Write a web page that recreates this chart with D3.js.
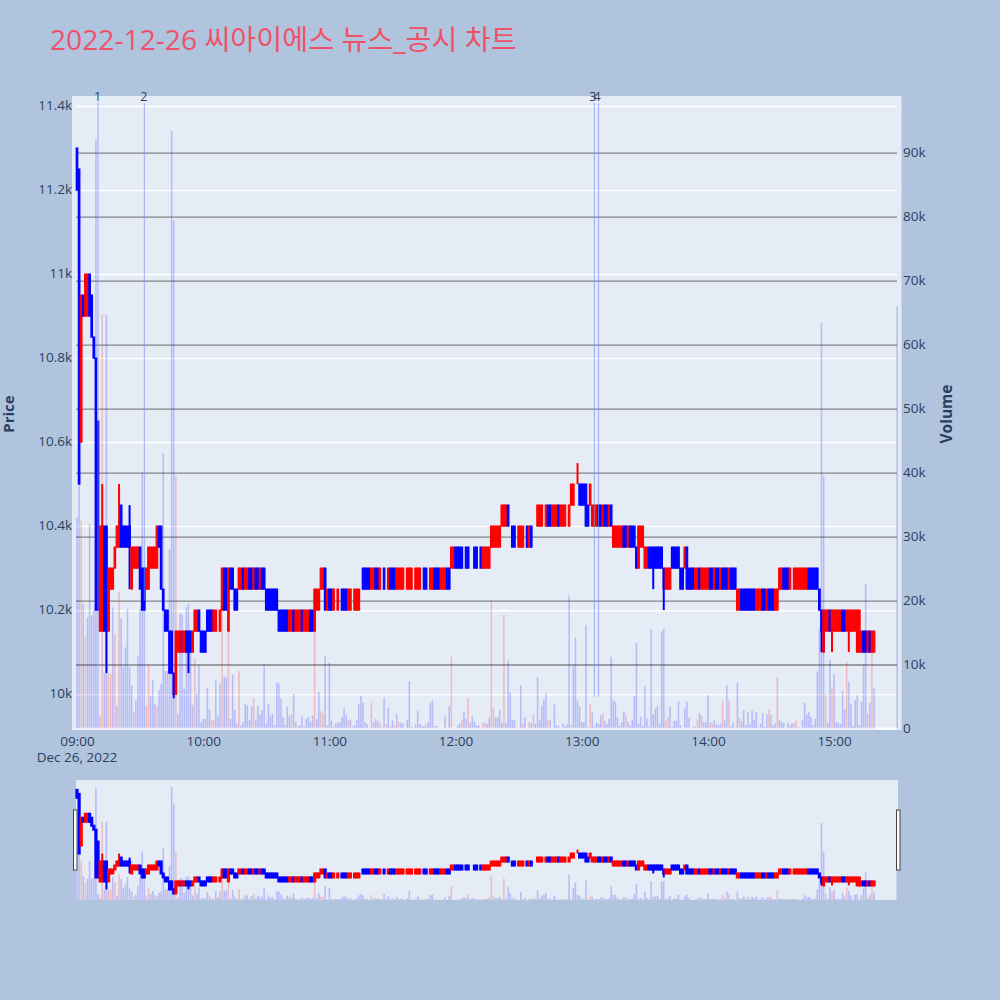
<!DOCTYPE html>
<html><head><meta charset="utf-8">
<script src="https://cdn.jsdelivr.net/npm/d3@7"></script>
<style>html,body{margin:0;padding:0;background:#b0c4de}svg{display:block}text{font-family:"Open Sans",sans-serif}</style>
</head><body><svg id="c" width="1000" height="1000"></svg>
<script>
const titleText = "2022-12-26 씨아이에스 뉴스_공시 차트";
const priceTicks = [10000,10200,10400,10600,10800,11000,11200,11400];
const volumeTicks = [0,10,20,30,40,50,60,70,80,90];
const opens = [
11300,11250,10600,10950,10900,10900,11000,10950,10850,10800,
10650,10150,10150,10400,10400,10150,10250,10250,10300,10350,
10350,10450,10400,10400,10400,10400,10250,10300,10300,10300,
10350,10300,10300,10250,10250,10300,10300,10300,10300,10400,
10400,10250,10200,10200,10150,10150,10050,10000,10100,10100,
10100,10100,10150,10150,10150,10100,10150,10150,10200,10150,
10150,10150,10200,10200,10200,10150,10150,10200,10150,10200,
10300,10300,10150,10300,10300,10250,10250,10250,10250,10300,
10250,10250,10300,10300,10250,10300,10300,10250,10300,10300,
10250,10250,10250,10250,10250,10250,10200,10200,10200,10200,
10200,10150,10150,10200,10150,10150,10150,10200,10150,10150,
10150,10200,10200,10150,10200,10200,10250,10250,10300,10200,
10250,10250,10200,10250,10200,10250,10250,10250,10250,10200,
10200,10250,10200,10200,10200,10250,10300,10300,10300,10300,
10250,10250,10300,10300,10250,10300,10300,10300,10250,10300,
10300,10300,10250,10250,10250,10250,10300,10250,10250,10250,
10300,10250,10250,10250,10300,10300,10300,10300,10250,10250,
10300,10300,10300,10250,10250,10250,10300,10300,10300,10300,
10350,10350,10350,10350,10350,10350,10350,10350,10350,10350,
10350,10350,10350,10300,10300,10300,10300,10350,10350,10350,
10350,10350,10400,10400,10400,10450,10400,10400,10400,10400,
10350,10350,10350,10400,10400,10350,10400,10400,10400,10400,
10400,10400,10450,10400,10450,10450,10400,10400,10400,10450,
10400,10400,10400,10450,10400,10450,10450,10500,10500,10500,
10500,10500,10500,10450,10450,10400,10400,10400,10450,10450,
10400,10450,10450,10400,10450,10350,10350,10350,10350,10350,
10400,10400,10350,10400,10400,10400,10350,10300,10350,10350,
10300,10300,10350,10350,10350,10350,10350,10350,10350,10300,
10250,10250,10250,10350,10350,10350,10350,10300,10300,10300,
10350,10300,10300,10300,10250,10250,10300,10250,10250,10250,
10250,10300,10300,10250,10300,10300,10250,10300,10300,10300,
10250,10300,10300,10300,10200,10200,10250,10250,10250,10250,
10250,10250,10250,10200,10200,10200,10250,10250,10200,10250,
10250,10250,10200,10200,10250,10250,10300,10300,10300,10250,
10300,10250,10250,10250,10250,10250,10250,10250,10300,10300,
10300,10300,10300,10250,10200,10100,10150,10150,10200,10150,
10150,10150,10150,10150,10200,10200,10150,10150,10150,10150,
10150,10100,10100,10100,10150,10150,10100,10150,10100,10100];
const closes = [
11200,10500,10950,10900,11000,11000,10900,10850,10800,10200,
10200,10400,10400,10150,10150,10300,10300,10300,10350,10400,
10400,10350,10350,10350,10350,10350,10350,10350,10350,10350,
10250,10200,10200,10300,10350,10350,10350,10350,10400,10350,
10250,10200,10150,10150,10050,10050,10000,10150,10150,10150,
10150,10150,10100,10100,10100,10150,10200,10200,10150,10100,
10100,10100,10150,10150,10150,10200,10200,10200,10200,10300,
10200,10200,10300,10250,10250,10200,10200,10300,10300,10250,
10300,10300,10250,10250,10300,10250,10250,10300,10250,10250,
10200,10200,10200,10200,10200,10200,10150,10150,10150,10150,
10150,10200,10200,10150,10200,10200,10200,10150,10200,10200,
10200,10150,10150,10250,10250,10250,10300,10300,10200,10250,
10200,10200,10250,10250,10250,10250,10200,10200,10200,10250,
10250,10250,10250,10250,10250,10250,10250,10250,10250,10250,
10300,10300,10250,10250,10300,10300,10250,10300,10300,10250,
10250,10250,10300,10300,10300,10300,10300,10300,10300,10300,
10300,10300,10300,10300,10300,10250,10250,10300,10300,10300,
10250,10250,10250,10300,10300,10300,10250,10250,10350,10350,
10300,10300,10300,10300,10350,10300,10300,10350,10350,10300,
10300,10350,10300,10350,10350,10350,10350,10400,10400,10400,
10400,10400,10450,10450,10450,10400,10400,10350,10350,10400,
10400,10400,10400,10400,10350,10400,10350,10400,10400,10450,
10450,10450,10450,10450,10400,10400,10450,10450,10450,10400,
10450,10450,10450,10450,10450,10500,10500,10500,10500,10450,
10450,10450,10400,10400,10500,10450,10450,10450,10400,10400,
10450,10400,10400,10450,10400,10400,10400,10400,10400,10400,
10350,10350,10400,10350,10350,10350,10300,10400,10400,10400,
10350,10350,10300,10300,10300,10300,10300,10300,10300,10250,
10300,10300,10300,10300,10300,10300,10300,10250,10250,10350,
10250,10250,10250,10250,10300,10300,10250,10300,10300,10300,
10300,10250,10250,10300,10250,10250,10300,10250,10250,10250,
10300,10250,10250,10250,10250,10250,10200,10200,10200,10200,
10200,10200,10200,10250,10250,10250,10200,10200,10250,10200,
10200,10200,10250,10250,10300,10300,10250,10250,10250,10300,
10300,10300,10300,10300,10300,10300,10300,10300,10250,10250,
10250,10250,10250,10200,10150,10200,10200,10200,10150,10200,
10200,10200,10200,10200,10150,10150,10200,10200,10200,10200,
10200,10200,10200,10150,10100,10100,10150,10100,10150,10150];
const wickHighMinutes = [12,20,25,238];
const wickHighPrices = [10500,10500,10450,10550];
const wickLowMinutes = [14,25,46,53,274,279,354,359,367];
const wickLowPrices = [10050,10250,9990,10050,10250,10200,10100,10100,10100];
const volumes = [ // thousands of shares, one per minute from 09:00
33,38,32.5,19.5,14.3,17.4,32,17.7,18.5,92,
5,2,64.7,8.6,64.7,8.6,8.6,19,14.8,3.6,
21.3,17.2,9.6,12.7,18.7,9.6,6.8,2.6,4.4,11.4,
18.7,40,19,3.6,10,5,7.5,3.9,3.4,6,
7,43,9,9,28,93.4,79.5,39.4,2.3,18,
17.8,6.2,19,19.5,12,3.7,11,5.5,10,1,
1.5,1.5,6.4,3,1.4,1.3,7.5,2,7,18.5,
8,8,18,1.5,8.4,2.9,.8,9,.5,1,
3.9,3.6,1.3,3.5,4.8,1.4,3.5,2.2,2.8,10,
.8,3.9,2,2.3,.5,7.2,7,4.7,1.8,.5,
3.4,2,2.3,5.4,1,.5,.5,2,.3,1.5,
1.8,1,2,15.9,1.5,5.7,2.7,2.4,11.3,.5,
10.3,1.2,.3,.8,.9,1,1.8,3.1,2.2,1.3,
1.4,.3,.5,1.3,3.9,5.1,4,1,.7,.1,
4,1,1.5,1.2,.9,.2,4.8,.7,3.2,.3,
1.3,.5,2.3,1,.9,.8,.1,1.4,7.4,.3,
.1,.6,2.8,.7,.4,.4,.7,1,4,4.4,
.4,.4,.1,.1,.1,2,.1,3.5,11.2,.1,
.1,.4,.8,1.4,2.6,1.5,4.7,1,1.9,1,
.5,.5,.1,.9,1,.7,1.7,20,3.3,1.8,
1.8,2.9,.9,17.8,.9,10.6,5.6,1.3,1.4,.2,
.1,6.8,.9,1.8,.1,1,.8,2.2,.8,8,
1.3,3.6,4.6,5.5,1.3,1.3,.1,3.8,.5,.4,
.1,.8,.3,.7,20.8,.5,9.9,14.2,4.4,3.5,
1,1,16.2,.2,3.8,2.5,.3,.9,.7,2.1,
2.4,1.2,.7,1.5,11.2,4.4,4.2,1.7,.4,1,
2.6,2.1,1,.5,1.3,5,13.4,.7,1.8,.4,
6.6,1.6,.4,15.5,2.2,3.1,3.6,.8,15.2,15.6,
1.3,1.8,3.4,.3,1.2,1.2,4.2,.5,.1,3.1,
4.2,1.7,.1,.3,.3,1.4,2.4,2,1,1,
5.2,.9,.9,1.3,.7,.5,.8,4.3,1.3,6.8,
4.4,.4,1,.15,7.1,1.7,1.1,2.9,.5,2.6,
.7,2.8,1.4,2.6,.15,.8,2.4,.25,2.2,3,
2.2,.5,.8,8,1.3,1.1,.9,.1,.9,.5,
.8,.9,1.2,.25,.1,1.3,4,2.2,2.6,1.8,
.5,1.5,8.9,15.5,63.4,39.5,5.4,.9,10.7,6.5,
8.5,1,.9,.7,5.9,3,10.4,7.3,3.8,.4,
4.4,5.2,.5,4.2,10,22.6,2.3,4,11.9,6.3];
const redVolumeMinutes = [2,4,11,12,15,16,18,20,27,33,34,38,47,56,64,65,69,72,77,84,102,105,113,116,117,129,140,144,147,151,153,166,170,178,183,186,193,194,197,198,203,209,212,215,217,224,235,244,250,261,272,280,281,295,297,301,302,307,310,315,329,333,341,342,356,359,366,376,378];
const closingMinute = 390, closingPrice = 10100, closingVolume = 66;
const noteLabels = ["1","2","3","4"];
const noteMinutes = [10,32,246,248];
const noteVolumes = [5,20,5,5];

const t = m => new Date(2022,11,26,9,m);
const x = d3.scaleTime().domain([t(0),t(390)]).range([77,897.2]);
const priceDomain = [9917,11424], volumeDomain = [0,98.85];
const yP = d3.scaleLinear().domain(priceDomain).range([729,96]);
const yV = d3.scaleLinear().domain(volumeDomain).range([728.5,96]);
const yPs = d3.scaleLinear().domain(priceDomain).range([900,780]);
const yVs = d3.scaleLinear().domain(volumeDomain).range([900,780]);
const ink = "#2a3f5f", bg = "#e5ecf6";
const candles = opens.map((o,i)=>({m:i,o,c:closes[i]}));
candles.push({m:closingMinute,o:closingPrice,c:closingPrice,last:true});
const bars = volumes.map((v,i)=>({m:i,v,red:redVolumeMinutes.includes(i)}));
bars.push({m:closingMinute,v:closingVolume,red:false});
const colour = d => d.c>d.o ? "#ff0000" : d.c<d.o ? "#0000ff" : (d.last ? "#0000ff" : "#ff3333");

const svg = d3.select("#c");
svg.append("rect").attr("width",1000).attr("height",1000).attr("fill","#b0c4de");
svg.append("text").attr("x",50).attr("y",50).attr("font-size",28.2).attr("fill","#ef5268")
  .style("font-family",'"Open Sans","Noto Sans CJK KR",sans-serif').text(titleText);
svg.append("rect").attr("x",72).attr("y",96).attr("width",829.5).attr("height",634).attr("fill",bg);
svg.append("rect").attr("x",76).attr("y",780).attr("width",822).attr("height",120).attr("fill",bg);

// axes and grids
const gridPrice = svg.append("g").attr("transform","translate(76,0)")
  .call(d3.axisRight(yP).tickValues(priceTicks).tickSize(821).tickFormat(""));
gridPrice.select(".domain").remove();
gridPrice.selectAll("line").attr("stroke","#fff").attr("stroke-width",1.5);
svg.append("line").attr("x1",76).attr("x2",897).attr("y1",yV(0)).attr("y2",yV(0)).attr("stroke","#fff").attr("stroke-width",2);
const gridVol = svg.append("g").attr("transform","translate(76,0)")
  .call(d3.axisRight(yV).tickValues(volumeTicks.slice(1)).tickSize(821).tickFormat(""));
gridVol.select(".domain").remove();
gridVol.selectAll("line").attr("stroke","#858585").attr("stroke-width",1.3);

const axL = svg.append("g").attr("transform","translate(72,-1)")
  .call(d3.axisLeft(yP).tickValues(priceTicks).tickSize(0).tickPadding(0).tickFormat(d=>(d/1000)+"k"));
const axR = svg.append("g").attr("transform","translate(901,-0.5)")
  .call(d3.axisRight(yV).tickValues(volumeTicks).tickSize(0).tickPadding(2).tickFormat(d=>d?d+"k":"0"));
const axB = svg.append("g").attr("transform","translate(0,730)")
  .call(d3.axisBottom(x).ticks(d3.timeHour.every(1)).tickSize(0).tickPadding(6).tickFormat(d3.timeFormat("%H:%M")));
[axL,axR,axB].forEach(a=>{a.select(".domain").remove();
  a.selectAll("text").attr("font-size",13.5).attr("fill",ink).style("font-family",'"Open Sans",sans-serif');});
svg.append("text").attr("x",77).attr("y",762).attr("text-anchor","middle").attr("font-size",13.5).attr("fill",ink).text("Dec 26, 2022");
svg.append("text").attr("transform","translate(14,414) rotate(-90)").attr("text-anchor","middle").attr("font-size",15).attr("font-weight",700).attr("fill",ink).text("Price");
svg.append("text").attr("transform","translate(952,414) rotate(-90)").attr("text-anchor","middle").attr("font-size",15.5).attr("font-weight",700).attr("fill",ink).text("Volume");

function drawCandles(g,y,bodyWidth,strokeWidth){
  const wH = g.append("g"), wL = g.append("g");
  wH.selectAll("line").data(wickHighMinutes).join("line")
    .attr("x1",m=>x(t(m))).attr("x2",m=>x(t(m)))
    .attr("y1",(m,i)=>y(wickHighPrices[i])).attr("y2",m=>y(Math.max(opens[m],closes[m])))
    .attr("stroke",m=>closes[m]>=opens[m]?"#ff0000":"#0000ff").attr("stroke-width",2);
  wL.selectAll("line").data(wickLowMinutes).join("line")
    .attr("x1",m=>x(t(m))).attr("x2",m=>x(t(m)))
    .attr("y1",(m,i)=>y(wickLowPrices[i])).attr("y2",m=>y(Math.min(opens[m],closes[m])))
    .attr("stroke",m=>closes[m]>opens[m]?"#ff0000":"#0000ff").attr("stroke-width",2);
  g.append("g").selectAll("rect").data(candles).join("rect")
    .attr("x",d=>x(t(d.m))-bodyWidth/2).attr("width",bodyWidth)
    .attr("y",d=>y(Math.max(d.o,d.c)))
    .attr("height",d=>Math.abs(y(d.o)-y(d.c)))
    .attr("fill",colour).attr("stroke",colour)
    .attr("stroke-width",d=>d.o===d.c?strokeWidth/2:strokeWidth).attr("stroke-opacity",d=>d.o===d.c&&!d.last?0.6:1);
}
function drawVolume(g,y){
  g.selectAll("rect").data(bars).join("rect")
    .attr("x",d=>x(t(d.m))-0.8).attr("width",1.6)
    .attr("y",d=>y(d.v)).attr("height",d=>y(0)-y(d.v))
    .attr("fill",d=>d.red?"#ff0000":"#0000ff").attr("fill-opacity",0.2);
}
drawCandles(svg.append("g"),yP,1.5,1.2);
drawVolume(svg.append("g"),yV);
drawCandles(svg.append("g"),yPs,1.2,2);
drawVolume(svg.append("g"),yVs);

// annotation arrows and labels
svg.append("g").selectAll("line").data(noteMinutes).join("line")
  .attr("x1",m=>x(t(m))).attr("x2",m=>x(t(m))).attr("y1",103)
  .attr("y2",(m,i)=>yV(noteVolumes[i]))
  .attr("stroke","#7b90ee").attr("stroke-opacity",0.65).attr("stroke-width",1.1);
svg.append("g").selectAll("text").data(noteLabels).join("text")
  .attr("x",(d,i)=>x(t(noteMinutes[i]))-(i<2?0.5:1.5)).attr("y",101).attr("text-anchor","middle")
  .attr("font-size",12.5).attr("fill",ink).text(d=>d);

// range slider handles
[[73.5,810],[896.5,810]].forEach(([hx,hy])=>{
  svg.append("rect").attr("x",hx).attr("y",hy).attr("width",3.5).attr("height",60)
    .attr("fill","#fff").attr("stroke","#444").attr("stroke-width",1);
});
</script></body></html>
